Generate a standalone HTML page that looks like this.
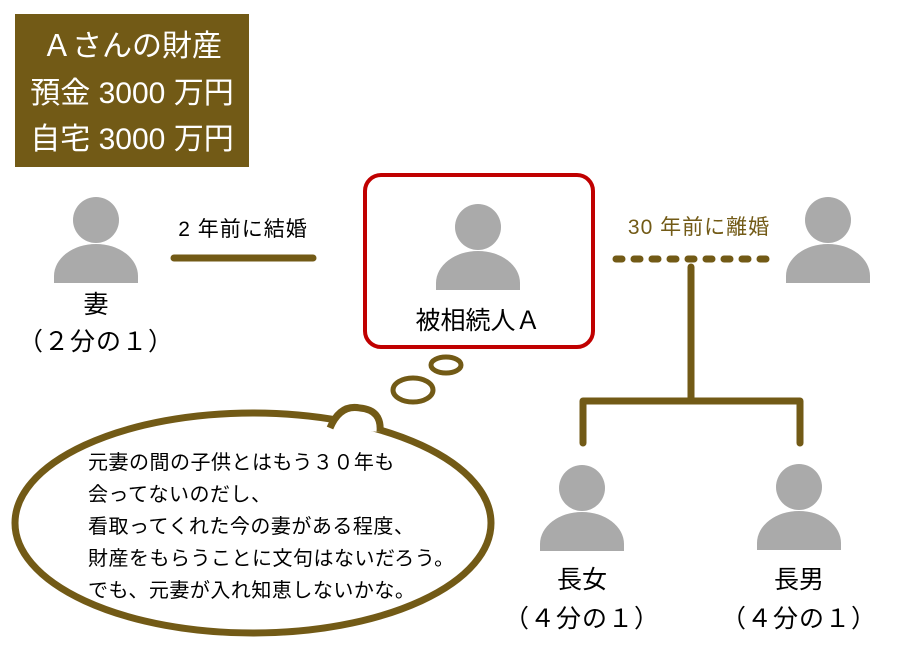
<!DOCTYPE html>
<html><head><meta charset="utf-8"><style>
html,body{margin:0;padding:0;background:#fff;}
svg{display:block;}
text{font-family:"Liberation Sans","Noto Sans CJK JP",sans-serif;}
</style></head><body>
<svg width="904" height="659" viewBox="0 0 904 659" xmlns="http://www.w3.org/2000/svg">
<defs>
<g id="p">
<circle cx="0" cy="0" r="23" fill="#aaaaaa"/>
<path d="M-42 63 L-42 56 A42 32 0 0 1 42 56 L42 63 Z" fill="#aaaaaa"/>
</g>
</defs>
<rect x="15" y="14" width="234" height="153" fill="#725a16"/>
<g fill="#fff" font-size="30" text-anchor="middle">
<text x="132" y="56">Ａさんの財産</text>
<text x="132" y="103">預金 3000 万円</text>
<text x="132" y="149">自宅 3000 万円</text>
</g>
<use href="#p" x="96" y="220"/>
<text x="96" y="313" font-size="25" text-anchor="middle">妻</text>
<text x="96" y="350" font-size="25" letter-spacing="1" text-anchor="middle">（２分の１）</text>
<text x="243" y="236" font-size="21" letter-spacing="1" text-anchor="middle">2 年前に結婚</text>
<line x1="174" y1="258" x2="313" y2="258" stroke="#725a16" stroke-width="7" stroke-linecap="round"/>
<rect x="365" y="175" width="228" height="172" rx="16" fill="none" stroke="#c00000" stroke-width="4"/>
<use href="#p" x="478" y="227"/>
<text x="478" y="329" font-size="25" text-anchor="middle">被相続人Ａ</text>
<text x="699" y="234" font-size="21" letter-spacing="1" text-anchor="middle" fill="#725a16">30 年前に離婚</text>
<line x1="616" y1="259" x2="768" y2="259" stroke="#725a16" stroke-width="7" stroke-linecap="round" stroke-dasharray="6 12"/>
<use href="#p" x="828" y="220"/>
<path d="M691 267 V401 M583 443 V401 H800 V443" fill="none" stroke="#725a16" stroke-width="7" stroke-linecap="round" stroke-linejoin="round"/>
<use href="#p" x="582" y="488"/>
<use href="#p" x="799" y="487"/>
<text x="582" y="588" font-size="25" text-anchor="middle">長女</text>
<text x="582" y="627" font-size="25" letter-spacing="1" text-anchor="middle">（４分の１）</text>
<text x="799" y="588" font-size="25" text-anchor="middle">長男</text>
<text x="799" y="627" font-size="25" letter-spacing="1" text-anchor="middle">（４分の１）</text>
<ellipse cx="446" cy="365" rx="15" ry="8" fill="none" stroke="#725a16" stroke-width="5"/>
<ellipse cx="413" cy="390" rx="20" ry="12" fill="none" stroke="#725a16" stroke-width="5"/>
<ellipse cx="253" cy="523" rx="238" ry="110" fill="#fff" stroke="#725a16" stroke-width="7"/>
<path d="M330 428 Q340 404 360 408 Q382 410 380 432" fill="#fff" stroke="#725a16" stroke-width="7"/>
<path d="M334 432 Q355 422 376 434" fill="#fff" stroke="none"/>
<g font-size="20" letter-spacing="0.5">
<text x="88" y="469">元妻の間の子供とはもう３０年も</text>
<text x="88" y="501">会ってないのだし、</text>
<text x="88" y="533">看取ってくれた今の妻がある程度、</text>
<text x="88" y="565">財産をもらうことに文句はないだろう。</text>
<text x="88" y="597">でも、元妻が入れ知恵しないかな。</text>
</g>
</svg>
</body></html>
